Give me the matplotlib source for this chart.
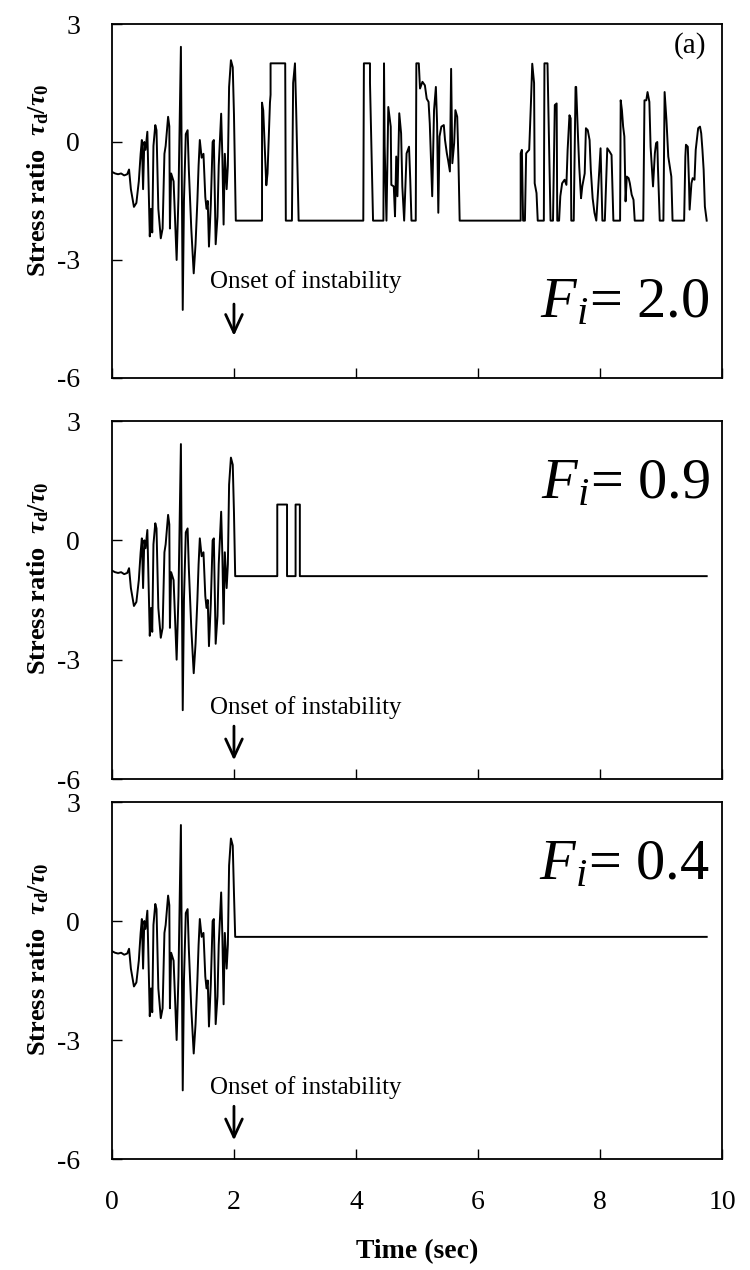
import matplotlib.pyplot as plt
import numpy as np

plt.rcParams['font.family'] = ['Liberation Serif', 'DejaVu Serif']
plt.rcParams['mathtext.fontset'] = 'custom'
plt.rcParams['mathtext.rm'] = 'Liberation Serif:bold'
plt.rcParams['mathtext.it'] = 'Liberation Serif:italic:bold'
plt.rcParams['mathtext.bf'] = 'Liberation Serif:bold'
plt.rcParams['mathtext.sf'] = 'Liberation Serif:italic'

# registro comun antes de la inestabilidad (t, tau_d/tau_0)
t_comun = [0.00, 0.05, 0.10, 0.15, 0.20, 0.25, 0.28, 0.31, 0.36, 0.40, 0.44, 0.47,
           0.49, 0.51, 0.53, 0.55, 0.58, 0.62, 0.64, 0.66, 0.68, 0.71, 0.73, 0.76,
           0.80, 0.83, 0.86, 0.88, 0.92, 0.94, 0.95, 0.97, 1.01, 1.06, 1.09, 1.13,
           1.16, 1.18, 1.21, 1.24, 1.26, 1.30, 1.34, 1.37, 1.40, 1.42, 1.44, 1.47,
           1.50, 1.53, 1.55, 1.57, 1.59, 1.62, 1.65, 1.67, 1.70, 1.73, 1.75, 1.79,
           1.81, 1.83, 1.85, 1.88, 1.90, 1.92, 1.95, 1.98, 2.00]
v_comun = [-0.76, -0.80, -0.82, -0.80, -0.85, -0.82, -0.70, -1.20, -1.65, -1.55, -1.00, -0.30,
           0.05, -1.20, 0.00, -0.20, 0.26, -2.40, -1.70, -2.30, -0.10, 0.43, 0.30, -1.70,
           -2.45, -2.20, -0.30, -0.10, 0.64, 0.40, -2.20, -0.80, -1.00, -3.00, -1.40, 2.42,
           -4.27, -1.50, 0.20, 0.30, -0.70, -2.20, -3.34, -2.60, -1.50, -0.60, 0.05, -0.40,
           -0.30, -1.40, -1.70, -1.50, -2.66, -1.60, 0.00, 0.05, -2.60, -1.90, -0.60, 0.72,
           -0.40, -2.10, -0.30, -1.20, -0.60, 1.40, 2.08, 1.90, 0.70]

# Fi = 2.0
t_a = [2.03, 2.46, 2.46, 2.48, 2.53, 2.55, 2.59, 2.60, 2.60, 2.84, 2.85, 2.95, 2.97, 3.00,
       3.02, 3.06, 4.12, 4.13, 4.23, 4.23, 4.28, 4.45, 4.46, 4.47, 4.50, 4.53, 4.57, 4.58,
       4.62, 4.64, 4.66, 4.68, 4.71, 4.74, 4.76, 4.79, 4.83, 4.87, 4.89, 4.91, 4.98, 4.99,
       5.03, 5.05, 5.09, 5.13, 5.16, 5.19, 5.21, 5.25, 5.28, 5.31, 5.33, 5.35, 5.37, 5.40,
       5.44, 5.46, 5.49, 5.51, 5.54, 5.56, 5.58, 5.61, 5.63, 5.66, 5.68, 5.70, 6.70, 6.70,
       6.72, 6.74, 6.77, 6.79, 6.81, 6.84, 6.87, 6.89, 6.92, 6.93, 6.96, 6.98, 7.08, 7.09,
       7.14, 7.19, 7.23, 7.26, 7.29, 7.30, 7.33, 7.35, 7.38, 7.42, 7.45, 7.47, 7.50, 7.52,
       7.53, 7.57, 7.60, 7.61, 7.64, 7.66, 7.69, 7.71, 7.75, 7.77, 7.80, 7.83, 7.85, 7.88,
       7.91, 7.94, 8.01, 8.02, 8.04, 8.08, 8.12, 8.16, 8.19, 8.22, 8.33, 8.34, 8.36, 8.38,
       8.40, 8.42, 8.44, 8.47, 8.49, 8.52, 8.55, 8.57, 8.71, 8.73, 8.76, 8.78, 8.81, 8.83,
       8.86, 8.87, 8.90, 8.92, 8.94, 8.95, 8.98, 9.04, 9.06, 9.09, 9.12, 9.14, 9.17, 9.19,
       9.38, 9.40, 9.41, 9.44, 9.46, 9.47, 9.50, 9.52, 9.55, 9.57, 9.61, 9.64, 9.66, 9.68,
       9.70, 9.72, 9.75]
v_a = [-2.0, -2.0, 1.00, 0.80, -1.10, -0.80, 1.00, 1.20, 2.0, 2.0, -2.0, -2.0, 1.50, 2.0,
       0.80, -2.0, -2.0, 2.0, 2.0, 1.50, -2.0, -2.0, 2.0, -0.10, -2.0, 0.89, 0.39, -1.09,
       -1.13, -1.89, -0.37, -1.38, 0.73, 0.22, -1.13, -2.0, -0.29, -0.12, -0.96, -2.0, -2.0, 2.0,
       2.0, 1.36, 1.53, 1.44, 1.10, 1.02, 0.47, -1.38, 0.81, 1.40, 0.47, -1.80, 0.14, 0.39,
       0.43, 0.05, -0.29, -0.46, -0.75, 1.86, -0.54, -0.03, 0.81, 0.64, -0.46, -2.0, -2.0, -0.29,
       -0.20, -2.0, -2.0, -0.29, -0.25, -0.20, 1.06, 1.99, 1.50, -1.05, -1.30, -2.0, -2.0, 2.0,
       2.0, -2.0, -2.0, 0.94, 0.98, -2.0, -2.0, -1.38, -1.05, -0.96, -1.09, -0.20, 0.68, 0.60,
       -2.0, -2.0, 1.40, 1.40, 0.14, -0.62, -1.43, -1.13, -0.80, 0.35, 0.30, 0.05, -0.71, -1.43,
       -1.80, -2.0, -0.16, -0.80, -2.0, -2.0, -0.16, -0.25, -0.33, -2.0, -2.0, 1.06, 0.81, 0.39,
       0.14, -1.51, -0.88, -0.92, -1.05, -1.34, -1.47, -2.0, -2.0, 1.06, 1.06, 1.27, 1.02, -0.12,
       -0.88, -1.13, -0.29, -0.03, 0.00, -0.62, -2.0, -2.0, 1.27, 0.56, -0.37, -0.58, -0.88, -2.0,
       -2.0, -0.37, -0.07, -0.12, -1.05, -1.72, -1.05, -0.92, -0.96, -0.20, 0.35, 0.39, 0.22, -0.20,
       -0.71, -1.64, -2.0]

# Fi = 0.9
t_b = [2.02, 2.71, 2.71, 2.87, 2.87, 3.01, 3.01, 3.08, 3.08, 9.75]
v_b = [-0.9, -0.9, 0.9, 0.9, -0.9, -0.9, 0.9, 0.9, -0.9, -0.9]

# Fi = 0.4
t_c = [2.02, 9.75]
v_c = [-0.4, -0.4]

paneles = [
    (t_a, v_a, '2.0', [0.1493, 0.7024, 0.8133, 0.2787], -3.55, (-4.05, -5.0), -4.1),
    (t_b, v_b, '0.9', [0.1493, 0.3866, 0.8133, 0.2819], -4.2, (-4.6, -5.6), 1.4),
    (t_c, v_c, '0.4', [0.1493, 0.0874, 0.8133, 0.2811], -4.2, (-4.6, -5.6), 1.4),
]

fig = plt.figure(figsize=(7.5, 12.7), dpi=100)

for k, (t_post, v_post, fi, rect, y_txt, (y_cola, y_punta), y_fi) in enumerate(paneles):
    ax = fig.add_axes(rect)
    t = np.array(t_comun + t_post)
    v = np.array(v_comun + v_post)
    ax.plot(t, v, color='black', linewidth=1.4)

    ax.set_xlim(0, 10)
    ax.set_ylim(-6, 3)
    ax.set_yticks([-6, -3, 0, 3])
    ax.set_yticklabels(['-6', '-3', '0', '3'])
    ax.set_xticks([0, 2, 4, 6, 8, 10])
    ax.tick_params(direction='in', length=7, width=1, labelsize=20)
    ax.tick_params(axis='y', pad=23)
    ax.tick_params(axis='x', pad=22)
    if k < 2:
        ax.set_xticklabels([])
    for s in ax.spines.values():
        s.set_linewidth(1.3)

    ax.set_ylabel(r'Stress ratio  $\tau_{\mathrm{d}}/\tau_{0}$', fontsize=19,
                  fontweight='bold')
    ax.yaxis.set_label_coords(-0.1, 0.56)

    ax.text(1.6, y_txt, 'Onset of instability', fontsize=18, va='center', ha='left')
    ax.annotate('', xy=(2.0, y_punta), xytext=(2.0, y_cola),
                arrowprops=dict(arrowstyle='->,head_length=1.3,head_width=0.6',
                                color='black', lw=2))
    ax.text(9.8, y_fi, r'$\mathsf{F_i}$= ' + fi, fontsize=42,
            ha='right', va='center')
    if k == 0:
        ax.text(9.75, 2.45, '(a)', fontsize=21, ha='right', va='center')

ax.set_xlabel('Time (sec)', fontsize=20, fontweight='bold', labelpad=18)

fig.savefig('out.png', dpi=100)
